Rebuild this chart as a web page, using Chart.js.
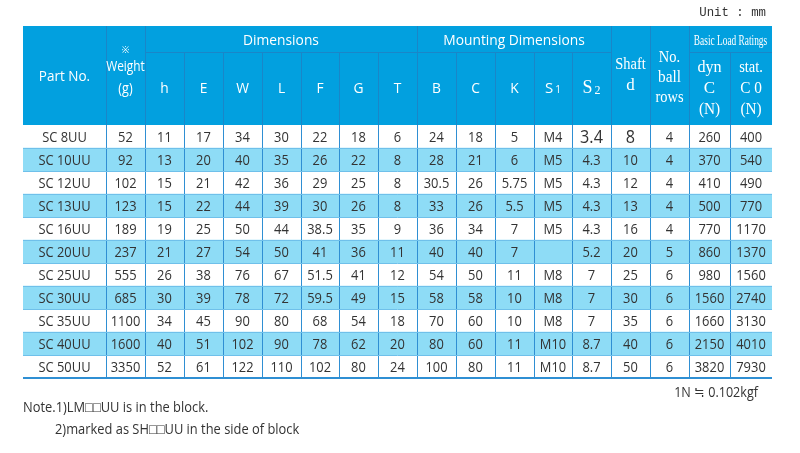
<!DOCTYPE html>
<html><head><meta charset="utf-8">
<script src="https://cdn.jsdelivr.net/npm/chart.js@4"></script>
<style>html,body{margin:0;padding:0;background:#fff}#w{width:800px;height:453px}</style>
</head><body><div id="w"><canvas id="c"></canvas></div>
<script>
const parts  = ['SC 8UU','SC 10UU','SC 12UU','SC 13UU','SC 16UU','SC 20UU','SC 25UU','SC 30UU','SC 35UU','SC 40UU','SC 50UU'];
const weight = ['52','92','102','123','189','237','555','685','1100','1600','3350'];
const hDim   = ['11','13','15','15','19','21','26','30','34','40','52'];
const eDim   = ['17','20','21','22','25','27','38','39','45','51','61'];
const wDim   = ['34','40','42','44','50','54','76','78','90','102','122'];
const lDim   = ['30','35','36','39','44','50','67','72','80','90','110'];
const fDim   = ['22','26','29','30','38.5','41','51.5','59.5','68','78','102'];
const gDim   = ['18','22','25','26','35','36','41','49','54','62','80'];
const tDim   = ['6','8','8','8','9','11','12','15','18','20','24'];
const bDim   = ['24','28','30.5','33','36','40','54','58','70','80','100'];
const cDim   = ['18','21','26','26','34','40','50','58','60','60','80'];
const kDim   = ['5','6','5.75','5.5','7','7','11','10','10','11','11'];
const s1Dim  = ['M4','M5','M5','M5','M5','','M8','M8','M8','M10','M10'];
const s2Dim  = ['3.4','4.3','4.3','4.3','4.3','5.2','7','7','7','8.7','8.7'];
const shaft  = ['8','10','12','13','16','20','25','30','35','40','50'];
const balls  = ['4','4','4','4','4','5','6','6','6','6','6'];
const dynC   = ['260','370','410','500','770','860','980','1560','1660','2150','3820'];
const statC0 = ['400','540','490','770','1170','1370','1560','2740','3130','4010','7930'];
const columns = [parts,weight,hDim,eDim,wDim,lDim,fDim,gDim,tDim,bDim,cDim,kDim,s1Dim,s2Dim,shaft,balls,dynC,statC0];

const colW = [83,39,39,39,39,39,38,39,39,39,39,39,38,39,39,39,41,42];
const edges=[0]; colW.forEach(w=>edges.push(edges[edges.length-1]+w));
const total=edges[edges.length-1];
const HBLUE='#02a0df', BAND='#8edcf6', LINE='#2f8fd3', TXT='#333';
const SANS='"Open Sans","Noto Sans",sans-serif', SERIF='"Liberation Serif","DejaVu Serif",serif';

const tablePlugin={id:'table',
 afterDatasetsDraw(ch){
  const c=ch.ctx,x=ch.scales.x,y=ch.scales.y,a=ch.chartArea;
  const X=i=>x.getPixelForValue(edges[i]);
  const rowH=(a.bottom-a.top)/parts.length;
  const top=26, mid=52;
  const txt=(s,px,py,font,sx)=>{c.save();c.font=font;c.translate(px,py);c.scale(sx||1,1);c.fillText(s,0,0);c.restore();};
  c.save();
  c.fillStyle=HBLUE; c.fillRect(a.left,top,a.right-a.left,a.top-top);
  c.strokeStyle='#1a86c8'; c.lineWidth=1;
  const vl=(xx,y0,y1)=>{c.beginPath();c.moveTo(Math.round(xx)+.5,y0);c.lineTo(Math.round(xx)+.5,y1);c.stroke();};
  const hl=(x0,x1,yy)=>{c.beginPath();c.moveTo(x0,Math.round(yy)+.5);c.lineTo(x1,Math.round(yy)+.5);c.stroke();};
  for(let i=1;i<edges.length-1;i++){
    const inner=(i>=3&&i<=8)||(i>=10&&i<=13)||i===17;
    vl(X(i), inner?mid:top, a.top);
  }
  hl(X(2),X(9),mid); hl(X(9),X(14),mid); hl(X(16),X(18),mid);
  c.fillStyle='#fff'; c.textAlign='center'; c.textBaseline='middle';
  const cx=i=>(X(i)+X(i+1))/2;
  const HF='15px '+SANS;
  txt('Dimensions',(X(2)+X(9))/2,41,HF,0.92);
  txt('Mounting Dimensions',(X(9)+X(14))/2,41,HF,0.92);
  txt('Part No.',cx(0),77,HF,0.9);
  txt('Weight',cx(1),67,'14px '+SANS,0.85); txt('(g)',cx(1),89,'14px '+SANS,0.9);
  txt('※',cx(1),50,'9px '+SANS);
  ['h','E','W','L','F','G','T','B','C','K'].forEach((t,k)=>txt(t,cx(k+2),89,HF,0.92));
  txt('S',cx(12)-4,89,HF); txt('1',cx(12)+5,90,'10px '+SANS);
  txt('S',cx(13)-4,88,'18px '+SERIF); txt('2',cx(13)+6,91,'12px '+SERIF);
  const MF='17px '+SERIF;
  txt('Shaft',cx(14),65,MF,0.85); txt('d',cx(14),86,MF);
  txt('No.',cx(15),58,MF,0.85); txt('ball',cx(15),78,MF,0.9); txt('rows',cx(15),98,MF,0.85);
  txt('dyn',cx(16),68,MF,0.95); txt('C',cx(16),89,MF); txt('(N)',cx(16),110,MF,0.9);
  txt('stat.',cx(17),68,MF,0.85); txt('C 0',cx(17),89,MF,0.9); txt('(N)',cx(17),110,MF,0.9);
  c.save(); c.font='13px '+SERIF; c.translate((X(16)+X(18))/2,41); c.scale(0.72,1.15); c.fillText('Basic Load Ratings',0,0); c.restore();
  // body lines
  c.strokeStyle=LINE;
  for(let i=1;i<edges.length-1;i++) vl(X(i),a.top,a.bottom);
  c.strokeStyle='#6fc0ea';
  for(let r=1;r<parts.length;r++) hl(a.left,a.right,a.top+r*rowH);
  c.strokeStyle=LINE; c.lineWidth=2;
  c.beginPath(); c.moveTo(a.left,a.bottom); c.lineTo(a.right,a.bottom); c.stroke();
  // cells
  c.fillStyle=TXT;
  columns.forEach((col,ci)=>{
    col.forEach((v,ri)=>{
      const yy=y.getPixelForValue(ri)+1;
      if(ri===0&&(ci===13||ci===14)) txt(v,cx(ci),yy,'18px '+SANS,0.9);
      else txt(v,cx(ci),yy,'15px '+SANS,0.86);
    });
  });
  // notes
  c.textAlign='left';
  txt('Note.1)LM\u25A1\u25A1UU is in the block.',23,408,'14px '+SANS,0.92);
  txt('2)marked as SH\u25A1\u25A1UU in the side of block',55,430,'14px '+SANS,0.92);
  c.textAlign='right';
  txt('1N \u2252 0.102kgf',758,393,'14px '+SANS,0.9);
  txt('Unit : mm',766,13,'13px "Liberation Mono",monospace',0.95);
  c.restore();
 }};

new Chart(document.getElementById('c'),{
 type:'bar',
 data:{labels:parts,datasets:[{data:parts.map((p,i)=>i%2?[0,total]:null),backgroundColor:BAND,barPercentage:1,categoryPercentage:1,borderWidth:0}]},
 options:{indexAxis:'y',responsive:true,maintainAspectRatio:false,animation:false,
  layout:{padding:{top:125,left:23,right:28,bottom:75}},
  plugins:{legend:{display:false},tooltip:{enabled:false}},
  scales:{x:{type:'linear',min:0,max:total,display:false},y:{type:'category',display:false,offset:true}}},
 plugins:[tablePlugin]});
</script></body></html>
